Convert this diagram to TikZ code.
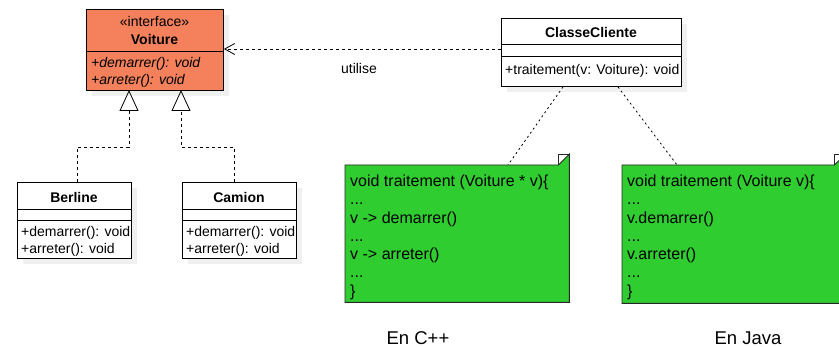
\documentclass[tikz,border=0pt]{standalone}
\usepackage{fontspec}
\setmainfont{Liberation Sans}
\usetikzlibrary{arrows.meta}

\definecolor{ifacefill}{RGB}{244,129,92}
\definecolor{notefill}{RGB}{48,205,48}
\definecolor{shadowgray}{RGB}{240,240,240}
\definecolor{noteedge}{RGB}{40,40,40}

\tikzset{
  umlbox/.style={draw, line width=0.9pt, inner sep=0pt, anchor=north west, fill=white},
  boxshadow/.style={fill=shadowgray, draw=none},
  divider/.style={line width=0.9pt},
  classtxt/.style={font=\fontsize{14}{16}\selectfont, inner sep=0pt},
  membertxt/.style={classtxt, anchor=west},
  notetxt/.style={font=\fontsize{16}{18}\selectfont, inner sep=0pt, anchor=base west},
  notebody/.style={fill=notefill, draw=noteedge, line width=0.9pt, line join=miter},
  relline/.style={draw, line width=0.8pt, dash pattern=on 3pt off 3pt},
  noteline/.style={draw, line width=0.8pt, dash pattern=on 2pt off 3pt},
  realize/.style={relline, -{Triangle[open, length=21pt, width=19pt, line width=0.8pt]}},
  depend/.style={relline, -{Straight Barb[length=10pt, width=11pt, line width=0.8pt]}},
  caption/.style={font=\fontsize{18.5}{20}\selectfont, inner sep=0pt},
}

\begin{document}
\begin{tikzpicture}[x=1pt, y=-1pt]
\useasboundingbox (0,0) rectangle (839,347);
\clip (0,0) rectangle (839,347);

% ---------- interface Voiture ----------
\fill[boxshadow] (92,15) rectangle (229,96);
\node[umlbox, fill=ifacefill, minimum width=137pt, minimum height=81pt] (voiture) at (86,9) {};
\draw[divider] (voiture.west |- 0,51) -- (voiture.east |- 0,51);
\node[classtxt] (vstereo) at (154.5,22) {«interface»};
\node[classtxt, font=\fontsize{14}{16}\selectfont\bfseries] (vname) at (154.5,40) {Voiture};
\node[membertxt, font=\fontsize{14}{16}\selectfont\itshape] (vm1) at (91,64) {+demarrer(): void};
\node[membertxt, font=\fontsize{14}{16}\selectfont\itshape] (vm2) at (91,81) {+arreter(): void};

% ---------- class Berline ----------
\fill[boxshadow] (23,188) rectangle (137,264);
\node[umlbox, minimum width=114pt, minimum height=76pt] (berline) at (17,182) {};
\draw[divider] (berline.west |- 0,209) -- (berline.east |- 0,209);
\draw[divider] (berline.west |- 0,220) -- (berline.east |- 0,220);
\node[classtxt, font=\fontsize{14}{16}\selectfont\bfseries] (bname) at (74,197) {Berline};
\node[membertxt] (bm1) at (21,233) {+demarrer(): void};
\node[membertxt] (bm2) at (21,250) {+arreter(): void};

% ---------- class Camion ----------
\fill[boxshadow] (188,188) rectangle (302,264);
\node[umlbox, minimum width=114pt, minimum height=76pt] (camion) at (182,182) {};
\draw[divider] (camion.west |- 0,209) -- (camion.east |- 0,209);
\draw[divider] (camion.west |- 0,220) -- (camion.east |- 0,220);
\node[classtxt, font=\fontsize{14}{16}\selectfont\bfseries] (cname) at (239,197) {Camion};
\node[membertxt] (cm1) at (186,233) {+demarrer(): void};
\node[membertxt] (cm2) at (186,250) {+arreter(): void};

% ---------- class ClasseCliente ----------
\fill[boxshadow] (507,24) rectangle (687,92);
\node[umlbox, minimum width=180pt, minimum height=68pt] (client) at (501,18) {};
\draw[divider] (client.west |- 0,44) -- (client.east |- 0,44);
\draw[divider] (client.west |- 0,56) -- (client.east |- 0,56);
\node[classtxt, font=\fontsize{14}{16}\selectfont\bfseries] (clname) at (591,32) {ClasseCliente};
\node[membertxt] (clm1) at (505,71) {+traitement(v: Voiture): void};

% ---------- realizations ----------
\coordinate (tipB) at (129,90);
\coordinate (tipC) at (181,90);
\draw[realize] ([xshift=3pt]berline.north) |- (129,147) -- (tipB);
\draw[realize] ([xshift=-5pt]camion.north) |- (181,147) -- (tipC);

% ---------- dependency ----------
\draw[depend] (client.west |- 0,49) -- (voiture.east |- 0,49);
\node[classtxt] (uses) at (359,68) {utilise};

% ---------- note for C++ ----------
\node[anchor=north west, minimum width=224pt, minimum height=137pt, inner sep=0pt] (notecpp) at (345,165) {};
\filldraw[notebody] (notecpp.north west) -- ([xshift=-11pt]notecpp.north east)
  -- ([yshift=11pt]notecpp.north east) -- (notecpp.south east) -- (notecpp.south west) -- cycle;
\draw[line width=0.9pt, draw=noteedge] ([xshift=-11pt]notecpp.north east) -- ([xshift=-11pt, yshift=11pt]notecpp.north east) -- ([yshift=11pt]notecpp.north east);
\node[notetxt] at (350,187) {void traitement (Voiture * v)\{};
\node[notetxt] at (350,205) {...};
\node[notetxt] at (350,223.5) {v -> demarrer()};
\node[notetxt] at (350,241.5) {...};
\node[notetxt] at (350,260) {v -> arreter()};
\node[notetxt] at (350,278) {...};
\node[notetxt] at (350,296.5) {\}};

% ---------- note for Java ----------
\node[anchor=north west, minimum width=223pt, minimum height=138pt, inner sep=0pt] (notejava) at (622,165) {};
\filldraw[notebody] (notejava.north west) -- ([xshift=-11pt]notejava.north east)
  -- ([yshift=11pt]notejava.north east) -- (notejava.south east) -- (notejava.south west) -- cycle;
\draw[line width=0.9pt, draw=noteedge] ([xshift=-11pt]notejava.north east) -- ([xshift=-11pt, yshift=11pt]notejava.north east) -- ([yshift=11pt]notejava.north east);
\node[notetxt] at (627,187) {void traitement (Voiture v)\{};
\node[notetxt] at (627,205) {...};
\node[notetxt] at (627,223.5) {v.demarrer()};
\node[notetxt] at (627,241.5) {...};
\node[notetxt] at (627,260) {v.arreter()};
\node[notetxt] at (627,278) {...};
\node[notetxt] at (627,296.5) {\}};

% ---------- note anchors ----------
\draw[noteline] (client.south -| 563,0) -- (notecpp.north -| 508,0);
\draw[noteline] (client.south -| 618,0) -- (notejava.north -| 677,0);

% ---------- captions ----------
\node[caption] (capcpp) at (418,338) {En C++};
\node[caption] (capjava) at (748,338) {En Java};
\end{tikzpicture}
\end{document}
